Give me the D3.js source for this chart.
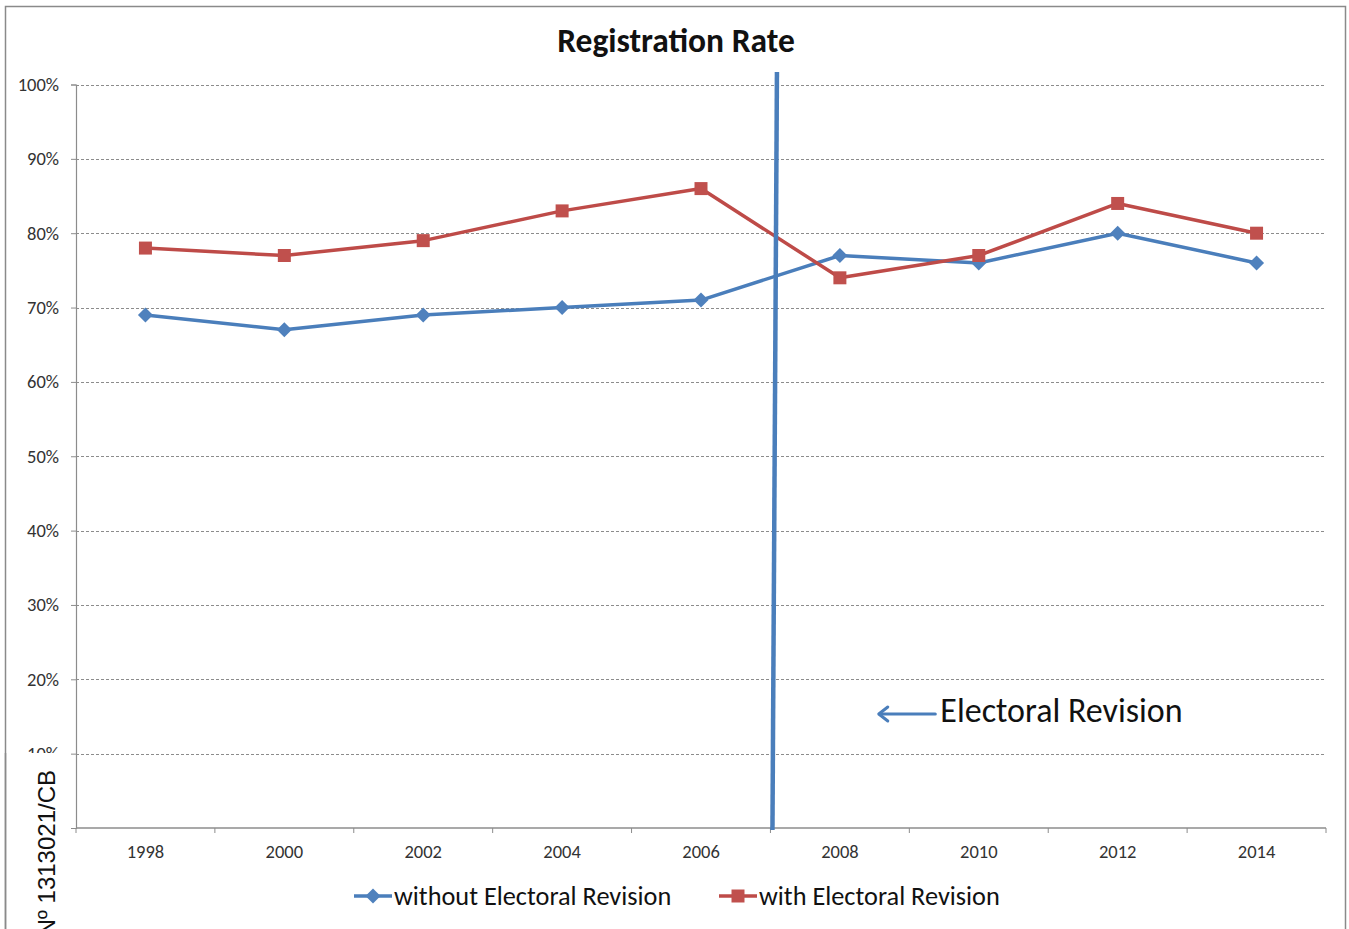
<!DOCTYPE html>
<html>
<head>
<meta charset="utf-8">
<script src="https://cdn.jsdelivr.net/npm/d3@7/dist/d3.min.js"></script>
<style>
  html, body { margin: 0; padding: 0; background: #fff; overflow: hidden; }
  svg { display: block; }
</style>
</head>
<body>
<svg id="chart" width="1349" height="929"></svg>
<script>
// Election years on the category axis
const years = ["1998", "2000", "2002", "2004", "2006", "2008", "2010", "2012", "2014"];
// Registration rate (%) per series
const withoutRevision = [69, 67, 69, 70, 71, 77, 76, 80, 76];
const withRevision = [78, 77, 79, 83, 86, 74, 77, 84, 80];
// Value axis ticks (%)
const yTickValues = [0, 10, 20, 30, 40, 50, 60, 70, 80, 90, 100];
// Series names
const seriesNames = ["without Electoral Revision", "with Electoral Revision"];
// Year at which the electoral revision took place (between 2006 and 2008)
const revisionBefore = "2008";

const FONT = "Carlito, Lato, 'Open Sans', sans-serif";
const blueLine = "#4a7ebb", blueMark = "#4f81bd";
const redLine = "#be4b48", redMark = "#c0504d";

const svg = d3.select("#chart");

// Outer chart frame
svg.append("rect")
  .attr("x", 5.5).attr("y", 6.5)
  .attr("width", 1340).attr("height", 1000)
  .attr("fill", "#fff").attr("stroke", "#8a8a8a").attr("stroke-width", 1.5);

const plot = { left: 76, right: 1326, top: 84.5, bottom: 828 };

const x = d3.scaleBand().domain(years).range([plot.left, plot.right]);
const y = d3.scaleLinear().domain([0, 100]).range([plot.bottom, plot.top]);
const cx = d => x(d) + x.bandwidth() / 2;

// Title
svg.append("text")
  .attr("x", 676).attr("y", 52)
  .attr("text-anchor", "middle")
  .attr("font-family", FONT).attr("font-weight", "bold")
  .attr("font-size", 33.5).attr("fill", "#111")
  .text("Registration Rate");

// Horizontal dashed gridlines
svg.append("g")
  .selectAll("line")
  .data(yTickValues.filter(v => v > 0))
  .join("line")
  .attr("x1", plot.left).attr("x2", plot.right)
  .attr("y1", d => Math.round(y(d)) + 0.5).attr("y2", d => Math.round(y(d)) + 0.5)
  .attr("stroke", "#8c8c8c").attr("stroke-width", 1)
  .attr("stroke-dasharray", "3,2");

// Value axis
const yAxis = svg.append("g")
  .attr("transform", `translate(${plot.left},0)`)
  .call(d3.axisLeft(y).tickValues(yTickValues).tickSize(5).tickPadding(12)
    .tickFormat(d => d + "%"));
yAxis.select(".domain").attr("stroke", "#8c8c8c").attr("stroke-width", 1.2);
yAxis.selectAll(".tick line").attr("stroke", "#8c8c8c");
yAxis.selectAll(".tick text")
  .attr("font-family", FONT).attr("font-size", 18.5).attr("fill", "#333");

// Category axis: labels centred in bands, ticks at band boundaries
const xAxis = svg.append("g")
  .attr("transform", `translate(0,${plot.bottom})`)
  .call(d3.axisBottom(x).tickSize(0).tickPadding(17));
xAxis.select(".domain").remove();
xAxis.selectAll(".tick text")
  .attr("font-family", FONT).attr("font-size", 18.5).attr("fill", "#333");
xAxis.append("line")
  .attr("x1", plot.left).attr("x2", plot.right)
  .attr("y1", 0).attr("y2", 0)
  .attr("stroke", "#8c8c8c").attr("stroke-width", 1.5);
xAxis.selectAll(".boundary")
  .data(years.map(d => x(d)).concat([plot.right]))
  .join("line")
  .attr("class", "boundary")
  .attr("x1", d => d).attr("x2", d => d)
  .attr("y1", 0).attr("y2", 5)
  .attr("stroke", "#8c8c8c");

// Series lines and markers
const line = d3.line().x(d => cx(d.year)).y(d => y(d.value));
const toPoints = vals => years.map((yr, i) => ({ year: yr, value: vals[i] }));

const series = [
  { name: seriesNames[0], points: toPoints(withoutRevision), stroke: blueLine, fill: blueMark, shape: "diamond" },
  { name: seriesNames[1], points: toPoints(withRevision), stroke: redLine, fill: redMark, shape: "square" }
];

const markerPath = shape => shape === "diamond"
  ? "M0,-7.5L7.5,0L0,7.5L-7.5,0Z"
  : "M-6.5,-6.5H6.5V6.5H-6.5Z";

series.forEach(s => {
  svg.append("path")
    .datum(s.points)
    .attr("d", line)
    .attr("fill", "none")
    .attr("stroke", s.stroke)
    .attr("stroke-width", 3.5)
    .attr("stroke-linejoin", "round");
  svg.append("g")
    .selectAll("path")
    .data(s.points)
    .join("path")
    .attr("transform", d => `translate(${cx(d.year)},${y(d.value)})`)
    .attr("d", markerPath(s.shape))
    .attr("fill", s.fill);
});

// Vertical marker for the electoral revision
const revX = x(revisionBefore);
svg.append("line")
  .attr("x1", revX + 6.5).attr("y1", y(100) - 12.5)
  .attr("x2", revX + 2).attr("y2", y(0) + 2)
  .attr("stroke", "#4a7ebb").attr("stroke-width", 4.5);

// Annotation arrow and label
const arrowY = 714;
const arrowTip = revX + x.bandwidth() * 0.78;
const arrowTail = x("2010") + 26;
const ann = svg.append("g").attr("stroke", "#4a7ebb").attr("stroke-width", 3).attr("fill", "none")
  .attr("stroke-linecap", "round").attr("stroke-linejoin", "round");
ann.append("line").attr("x1", arrowTail).attr("y1", arrowY).attr("x2", arrowTip + 1).attr("y2", arrowY);
ann.append("path").attr("d", `M${arrowTip + 9},${arrowY - 7}L${arrowTip},${arrowY}L${arrowTip + 9},${arrowY + 7}`);
svg.append("text")
  .attr("x", arrowTail + 5).attr("y", 722)
  .attr("font-family", FONT).attr("font-size", 34).attr("fill", "#111")
  .text("Electoral Revision");

// Legend
const legend = svg.append("g").attr("transform", "translate(0,896)");
const legendX = [354, 719];
series.forEach((s, i) => {
  const g = legend.append("g").attr("transform", `translate(${legendX[i]},0)`);
  g.append("line").attr("x1", 0).attr("x2", 38).attr("y1", 0).attr("y2", 0)
    .attr("stroke", s.stroke).attr("stroke-width", 3.5);
  g.append("path").attr("transform", "translate(19,0)")
    .attr("d", markerPath(s.shape)).attr("fill", s.fill);
  g.append("text").attr("x", 40).attr("y", 9)
    .attr("font-family", FONT).attr("font-size", 26.3).attr("fill", "#111")
    .text(s.name);
});

// Side reference stamp (white backed, over the lower axis labels)
svg.append("rect")
  .attr("x", 18).attr("y", 753).attr("width", 50).attr("height", 180)
  .attr("fill", "#fff");
svg.append("line")
  .attr("x1", 5.5).attr("x2", 5.5).attr("y1", 753).attr("y2", 929)
  .attr("stroke", "#8a8a8a").attr("stroke-width", 1.5);
svg.append("text")
  .attr("transform", "translate(55,770) rotate(-90)")
  .attr("text-anchor", "end")
  .attr("font-family", "'Liberation Sans', Arial, sans-serif")
  .attr("font-size", 24).attr("fill", "#111")
  .text("Nº 1313021/CB");
</script>
</body>
</html>
